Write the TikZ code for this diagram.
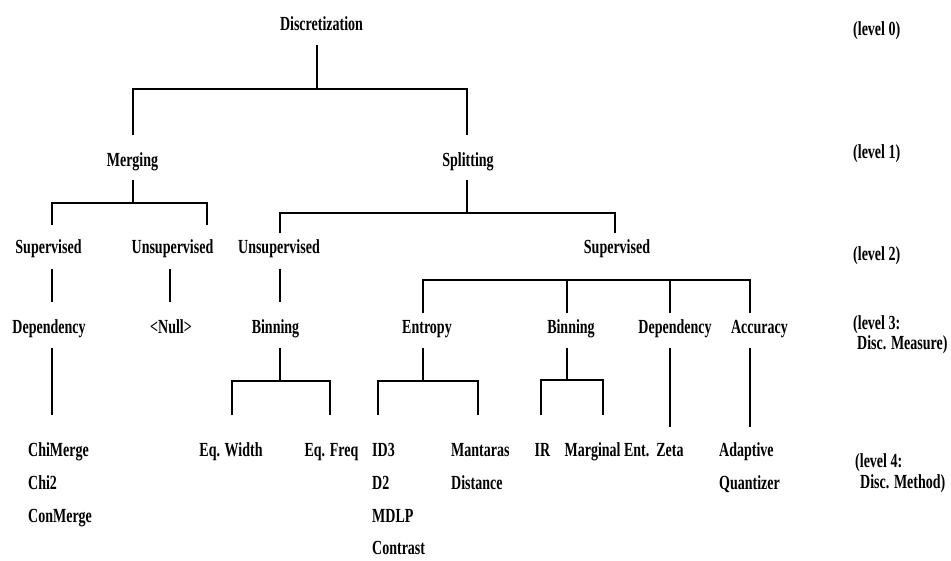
\documentclass[tikz,border=0pt]{standalone}
\usepackage{fontspec}
\newfontfamily\treefont{Liberation Serif}[FakeStretch=0.7]
\begin{document}
\begin{tikzpicture}[x=1pt,y=-1pt,
  lbl/.style={inner sep=0pt, font=\treefont\bfseries\fontsize{20}{22}\selectfont, anchor=base},
  lblw/.style={lbl, anchor=base west},
  tree/.style={line width=1.6pt, line join=miter}]
\useasboundingbox (0,0) rectangle (951,561);

% ---- level 0 / 1
\node[lbl] (disc)  at (321.5,31) {Discretization};
\node[lbl] (merg)  at (132.5,167) {Merging};
\node[lbl] (split) at (468,167) {Splitting};

% ---- level 2
\node[lbl] (msup)   at (48.5,254) {Supervised};
\node[lbl] (munsup) at (172.5,254) {Unsupervised};
\node[lbl] (sunsup) at (279,254) {Unsupervised};
\node[lbl] (ssup)   at (617,254) {Supervised};

% ---- level 3
\node[lbl] (mdep) at (49,334) {Dependency};
\node[lbl] (null) at (171,334) {<Null>};
\node[lbl] (sbin) at (275.5,334) {Binning};
\node[lbl] (ent)  at (427,334) {Entropy};
\node[lbl] (bin)  at (571,334) {Binning};
\node[lbl] (dep)  at (675,334) {Dependency};
\node[lbl] (acc)  at (759.5,334) {Accuracy};

% ---- level 4
\node[lblw] (chim)  at (28,456) {ChiMerge};
\node[lblw] (chi2)  at (28,489) {Chi2};
\node[lblw] (conm)  at (28,522) {ConMerge};
\node[lbl]  (eqw)   at (231,456) {Eq. Width};
\node[lbl]  (eqf)   at (331.5,456) {Eq. Freq};
\node[lblw] (id3)   at (372,456) {ID3};
\node[lblw] (d2)    at (372,489) {D2};
\node[lblw] (mdlp)  at (372,522) {MDLP};
\node[lblw] (contr) at (372,554) {Contrast};
\node[lblw] (mant)  at (451,456) {Mantaras};
\node[lblw] (dist)  at (451,489) {Distance};
\node[lbl]  (ir)    at (542.5,456) {IR};
\node[lbl]  (marg)  at (607,456) {Marginal Ent.};
\node[lbl]  (zeta)  at (670,456) {Zeta};
\node[lblw] (adap)  at (719,456) {Adaptive};
\node[lblw] (quant) at (719,489) {Quantizer};

% ---- level captions
\node[lblw] (lv0)  at (853,36)  {(level 0)};
\node[lblw] (lv1)  at (853,159) {(level 1)};
\node[lblw] (lv2)  at (853,261) {(level 2)};
\node[lblw] (lv3)  at (853,330) {(level 3:};
\node[lblw] (lv3b) at (857,350) {Disc. Measure)};
\node[lblw] (lv4)  at (855,467) {(level 4:};
\node[lblw] (lv4b) at (860,488) {Disc. Method)};

% ---- connector end points, placed relative to their nodes
\coordinate (disc-o)   at ([xshift=-4.5pt,yshift=-14pt]disc.base);
\coordinate (disc-j)   at ([yshift=-44pt]disc-o);
\coordinate (merg-i)   at ([xshift=0.5pt,yshift=32pt]merg.base);
\coordinate (split-i)  at ([xshift=-1pt,yshift=32pt]split.base);

\coordinate (merg-o)   at ([xshift=0.5pt,yshift=-13pt]merg.base);
\coordinate (merg-j)   at ([yshift=-23pt]merg-o);
\coordinate (msup-i)   at ([xshift=3.5pt,yshift=29pt]msup.base);
\coordinate (munsup-i) at ([xshift=34.5pt,yshift=29pt]munsup.base);

\coordinate (split-o)  at ([xshift=-1pt,yshift=-13pt]split.base);
\coordinate (split-j)  at ([yshift=-33pt]split-o);
\coordinate (sunsup-i) at ([xshift=1pt,yshift=21pt]sunsup.base);
\coordinate (ssup-i)   at ([xshift=-2pt,yshift=21pt]ssup.base);

\coordinate (msup-o)   at ([xshift=3.5pt,yshift=-15pt]msup.base);
\coordinate (mdep-i)   at ([xshift=3pt,yshift=32pt]mdep.base);
\coordinate (munsup-o) at ([xshift=-2.5pt,yshift=-15pt]munsup.base);
\coordinate (null-i)   at ([xshift=-1pt,yshift=32pt]null.base);
\coordinate (sunsup-o) at ([xshift=1pt,yshift=-15pt]sunsup.base);
\coordinate (sbin-i)   at ([xshift=4.5pt,yshift=32pt]sbin.base);

\coordinate (ssup-j)   at ([yshift=-26pt]ssup.base);
\coordinate (ent-i)    at ([xshift=-4pt,yshift=21pt]ent.base);
\coordinate (bin-i)    at ([xshift=-4pt,yshift=21pt]bin.base);
\coordinate (dep-i)    at ([xshift=-5pt,yshift=21pt]dep.base);
\coordinate (acc-i)    at ([xshift=-9.5pt,yshift=21pt]acc.base);

\coordinate (mdep-o)   at ([xshift=3pt,yshift=-14pt]mdep.base);
\coordinate (chim-i)   at ([xshift=24pt,yshift=41pt]chim.base west);

\coordinate (sbin-o)   at ([xshift=4.5pt,yshift=-14pt]sbin.base);
\coordinate (sbin-j)   at ([yshift=-33pt]sbin-o);
\coordinate (eqw-i)    at ([xshift=1pt,yshift=41pt]eqw.base);
\coordinate (eqf-i)    at ([xshift=-1.5pt,yshift=41pt]eqf.base);

\coordinate (ent-o)    at ([xshift=-4pt,yshift=-14pt]ent.base);
\coordinate (ent-j)    at ([yshift=-33pt]ent-o);
\coordinate (id3-i)    at ([xshift=6pt,yshift=41pt]id3.base west);
\coordinate (mant-i)   at ([xshift=27pt,yshift=41pt]mant.base west);

\coordinate (bin-o)    at ([xshift=-4pt,yshift=-14pt]bin.base);
\coordinate (bin-j)    at ([yshift=-32pt]bin-o);
\coordinate (ir-i)     at ([xshift=-1.5pt,yshift=41pt]ir.base);
\coordinate (marg-i)   at ([xshift=-4pt,yshift=41pt]marg.base);

\coordinate (dep-o)    at ([xshift=-5pt,yshift=-14pt]dep.base);
\coordinate (zeta-i)   at ([yshift=29pt]zeta.base);
\coordinate (acc-o)    at ([xshift=-9.5pt,yshift=-14pt]acc.base);
\coordinate (adap-i)   at ([xshift=31pt,yshift=29pt]adap.base west);

% ---- tree connectors
\draw[tree] (disc-o) -- (disc-j);
\draw[tree] (merg-i) -- (merg-i |- disc-j) -- (split-i |- disc-j) -- (split-i);

\draw[tree] (merg-o) -- (merg-j);
\draw[tree] (msup-i) -- (msup-i |- merg-j) -- (munsup-i |- merg-j) -- (munsup-i);

\draw[tree] (split-o) -- (split-j);
\draw[tree] (sunsup-i) -- (sunsup-i |- split-j) -- (ssup-i |- split-j) -- (ssup-i);

\draw[tree] (msup-o) -- (mdep-i);
\draw[tree] (munsup-o) -- (null-i);
\draw[tree] (sunsup-o) -- (sbin-i);

\draw[tree] (ent-i) -- (ent-i |- ssup-j) -- (acc-i |- ssup-j) -- (acc-i);
\draw[tree] (bin-i) -- (bin-i |- ssup-j);
\draw[tree] (dep-i) -- (dep-i |- ssup-j);

\draw[tree] (mdep-o) -- (chim-i);

\draw[tree] (sbin-o) -- (sbin-j);
\draw[tree] (eqw-i) -- (eqw-i |- sbin-j) -- (eqf-i |- sbin-j) -- (eqf-i);

\draw[tree] (ent-o) -- (ent-j);
\draw[tree] (id3-i) -- (id3-i |- ent-j) -- (mant-i |- ent-j) -- (mant-i);

\draw[tree] (bin-o) -- (bin-j);
\draw[tree] (ir-i) -- (ir-i |- bin-j) -- (marg-i |- bin-j) -- (marg-i);

\draw[tree] (dep-o) -- (zeta-i);
\draw[tree] (acc-o) -- (adap-i);
\end{tikzpicture}
\end{document}
